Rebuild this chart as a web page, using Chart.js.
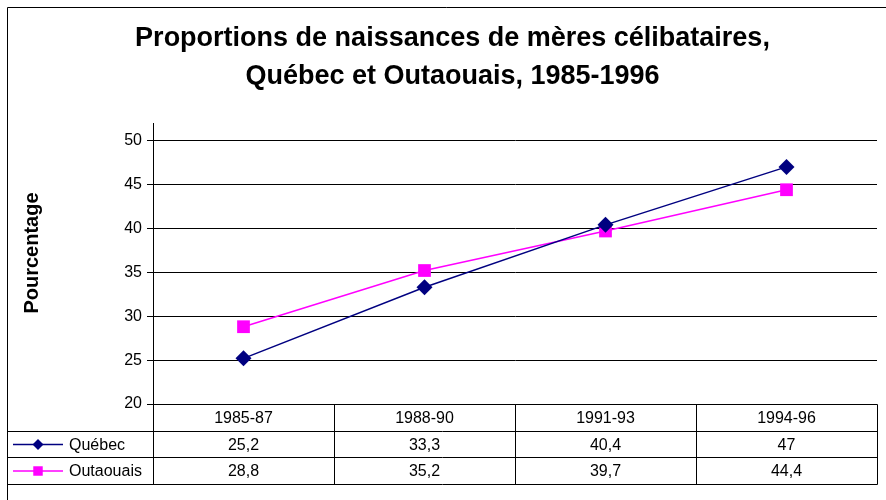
<!DOCTYPE html>
<html>
<head>
<meta charset="utf-8">
<script src="https://cdn.jsdelivr.net/npm/chart.js@4/dist/chart.umd.min.js"></script>
<style>
  html, body { margin: 0; padding: 0; background: #fff; }
</style>
</head>
<body>
<canvas id="graphique" width="886" height="500"></canvas>
<script>
// Données du graphique
const periodes = ['1985-87', '1988-90', '1991-93', '1994-96'];
const quebec = [25.2, 33.3, 40.4, 47];
const outaouais = [28.8, 35.2, 39.7, 44.4];
const seriesNoms = ['Québec', 'Outaouais'];
const titreLignes = ['Proportions de naissances de mères célibataires,', 'Québec et Outaouais, 1985-1996'];
const titreY = 'Pourcentage';
const yTicks = [20, 25, 30, 35, 40, 45, 50];

const police = "'Liberation Sans', Arial, sans-serif";
const couleurs = ['#000080', '#FF00FF'];
const styles = ['rectRot', 'rect'];

// formats like Excel in French: decimal comma
const fmt = v => String(v).replace('.', ',');

// Outer frame of the chart (left and top edges only, the rest is cropped)
const cadrePlugin = {
    id: 'cadre',
    afterLayout(chart) {
        // the title sits a little right of the canvas centre in the original
        chart.titleBlock.left += 8;
        chart.titleBlock.right += 8;
    },
    beforeDraw(chart) {
        const ctx = chart.ctx;
        ctx.save();
        ctx.strokeStyle = '#000';
        ctx.lineWidth = 1;
        ctx.beginPath();
        ctx.moveTo(7.5, chart.height);
        ctx.lineTo(7.5, 7.5);
        ctx.lineTo(chart.width, 7.5);
        ctx.stroke();
        ctx.restore();
    }
};

// Data table drawn under the plot area, using the x scale columns
const tablePlugin = {
    id: 'tableDonnees',
    afterDraw(chart) {
        const ctx = chart.ctx;
        const area = chart.chartArea;
        const xs = chart.scales.x;
        const colW = (area.right - area.left) / periodes.length;
        const rowH = 26.5;
        const ys = [0, 1, 2, 3].map(i => Math.round(area.bottom + i * rowH) + 0.5);
        const cols = [];
        for (let i = 0; i <= periodes.length; i++) cols.push(Math.round(area.left + i * colW) + 0.5);

        ctx.save();
        // y axis title, a bit above the plot's middle like the original
        ctx.fillStyle = '#000';
        ctx.font = 'bold 20px ' + police;
        ctx.textAlign = 'center';
        ctx.textBaseline = 'middle';
        ctx.translate(32, 253);
        ctx.rotate(-Math.PI / 2);
        ctx.fillText(titreY, 0, 0);
        ctx.setTransform(1, 0, 0, 1, 0, 0);

        ctx.strokeStyle = '#000';
        ctx.lineWidth = 1;
        ctx.beginPath();
        // horizontal lines
        ctx.moveTo(cols[0], ys[0]); ctx.lineTo(cols[cols.length - 1], ys[0]);
        for (let r = 1; r < ys.length; r++) {
            ctx.moveTo(7.5, ys[r]);
            ctx.lineTo(cols[cols.length - 1], ys[r]);
        }
        // vertical lines
        cols.forEach(cx => { ctx.moveTo(cx, ys[0]); ctx.lineTo(cx, ys[ys.length - 1]); });
        ctx.stroke();

        ctx.font = '16px ' + police;
        periodes.forEach((p, i) => {
            const cx = xs.getPixelForValue(i);
            ctx.fillText(p, cx, (ys[0] + ys[1]) / 2 + 1);
            ctx.fillText(fmt(quebec[i]), cx, (ys[1] + ys[2]) / 2 + 1);
            ctx.fillText(fmt(outaouais[i]), cx, (ys[2] + ys[3]) / 2 + 1);
        });

        // legend keys in the first column
        [quebec, outaouais].forEach((s, k) => {
            const cy = (ys[k + 1] + ys[k + 2]) / 2;
            ctx.strokeStyle = couleurs[k];
            ctx.lineWidth = 1.5;
            ctx.beginPath();
            ctx.moveTo(13, cy);
            ctx.lineTo(63, cy);
            ctx.stroke();
            ctx.fillStyle = couleurs[k];
            Chart.helpers.drawPoint(ctx, {
                pointStyle: styles[k],
                radius: k === 0 ? 5.5 : 6.7,
                rotation: 0,
                borderWidth: 0
            }, 38, cy);
            ctx.fillStyle = '#000';
            ctx.textAlign = 'left';
            ctx.fillText(seriesNoms[k], 69, cy + 1);
        });
        ctx.restore();
    }
};

new Chart(document.getElementById('graphique'), {
    type: 'line',
    data: {
        labels: periodes,
        datasets: [
            {
                label: seriesNoms[0],
                data: quebec,
                borderColor: couleurs[0],
                backgroundColor: couleurs[0],
                borderWidth: 1.5,
                pointStyle: 'rectRot',
                pointRadius: 8,
                pointBorderWidth: 0,
                tension: 0
            },
            {
                label: seriesNoms[1],
                data: outaouais,
                borderColor: couleurs[1],
                backgroundColor: couleurs[1],
                borderWidth: 1.5,
                pointStyle: 'rect',
                pointRadius: 9,
                pointBorderWidth: 0,
                tension: 0
            }
        ]
    },
    options: {
        responsive: false,
        animation: false,
        layout: { padding: { left: 7, top: 7, right: 4, bottom: 96 } },
        plugins: {
            legend: { display: false },
            tooltip: { enabled: false },
            title: {
                display: true,
                text: titreLignes,
                color: '#000',
                font: { family: police, size: 27, weight: 'bold', lineHeight: 1.4 },
                padding: { top: 12.6, bottom: 27.8 }
            }
        },
        scales: {
            x: {
                type: 'category',
                offset: true,
                display: false
            },
            y: {
                min: 20,
                max: 52,
                afterBuildTicks(scale) {
                    scale.ticks = yTicks.map(v => ({ value: v }));
                },
                afterFit(scale) { scale.width = 146; },
                ticks: {
                    color: '#000',
                    font: { family: police, size: 16 },
                    padding: 5
                },
                grid: {
                    color: '#000',
                    lineWidth: 1,
                    drawTicks: true,
                    tickLength: 6,
                    tickColor: '#000'
                },
                border: { display: true, color: '#000', width: 1 },
                title: { display: false }
            }
        }
    },
    plugins: [cadrePlugin, tablePlugin]
});
</script>
</body>
</html>
